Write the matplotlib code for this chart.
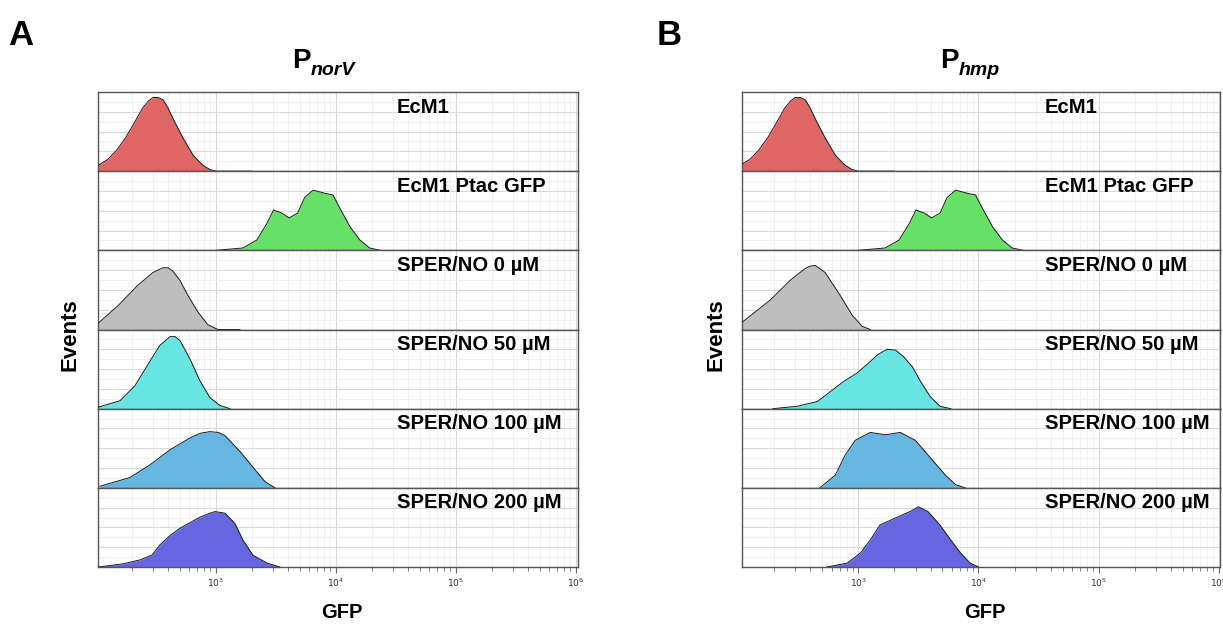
import numpy as np
import matplotlib
matplotlib.use("Agg")
import matplotlib.pyplot as plt
from matplotlib.ticker import LogLocator, FuncFormatter, NullFormatter, MultipleLocator

plt.rcParams['font.family'] = ['Liberation Sans', 'DejaVu Sans']

# ---------------- data (log10 GFP, relative event height) ----------------
row_labels = ["EcM1", "EcM1 Ptac GFP", "SPER/NO 0 \u00b5M", "SPER/NO 50 \u00b5M",
              "SPER/NO 100 \u00b5M", "SPER/NO 200 \u00b5M"]
row_colors = ["#E06666", "#66E066", "#BEBEBE", "#66E5E2", "#66B6E2", "#6666E0"]

ecm1_log = [2.02, 2.1, 2.175, 2.25, 2.31, 2.39, 2.44, 2.475, 2.52, 2.56, 2.6, 2.64,
            2.725, 2.81, 2.89, 2.95, 3.0, 3.3]
ecm1_h   = [0.076, 0.15, 0.27, 0.43, 0.585, 0.80, 0.89, 0.93, 0.93, 0.90, 0.80, 0.67,
            0.42, 0.20, 0.076, 0.02, 0.0, 0.0]

ptac_log = [3.0, 3.225, 3.34, 3.425, 3.48, 3.55, 3.61, 3.68, 3.74, 3.81, 3.91, 3.975,
            4.03, 4.12, 4.2, 4.28, 4.37]
ptac_h   = [0.0, 0.03, 0.13, 0.34, 0.51, 0.47, 0.41, 0.47, 0.67, 0.76, 0.72, 0.70,
            0.54, 0.29, 0.13, 0.03, 0.0]

# Panel A (P_norV)
a_sper0_log = [2.02, 2.183, 2.35, 2.475, 2.558, 2.60, 2.64, 2.70, 2.767, 2.85, 2.933,
               3.017, 3.2]
a_sper0_h   = [0.08, 0.30, 0.56, 0.72, 0.78, 0.78, 0.74, 0.62, 0.43, 0.22, 0.06,
               0.0, 0.0]

a_sper50_log = [2.0, 2.2, 2.325, 2.45, 2.533, 2.617, 2.66, 2.70, 2.783, 2.867, 2.95,
                3.033, 3.117]
a_sper50_h   = [0.01, 0.10, 0.29, 0.60, 0.80, 0.91, 0.91, 0.86, 0.63, 0.35, 0.14,
                0.04, 0.0]

a_sper100_log = [2.033, 2.283, 2.45, 2.617, 2.783, 2.87, 2.95, 3.02, 3.075, 3.2, 3.325,
                 3.408, 3.492]
a_sper100_h   = [0.02, 0.13, 0.29, 0.48, 0.63, 0.69, 0.71, 0.70, 0.66, 0.46, 0.23,
                 0.08, 0.0]

a_sper200_log = [2.02, 2.225, 2.367, 2.467, 2.533, 2.62, 2.70, 2.867, 2.95, 2.992,
                 3.075, 3.158, 3.225, 3.308, 3.425, 3.533]
a_sper200_h   = [0.0, 0.04, 0.09, 0.15, 0.28, 0.40, 0.49, 0.63, 0.68, 0.70,
                 0.68, 0.55, 0.34, 0.15, 0.05, 0.0]

# Panel B (P_hmp)
b_sper0_log = [2.033, 2.267, 2.433, 2.558, 2.60, 2.642, 2.725, 2.85, 2.95, 3.033, 3.1]
b_sper0_h   = [0.09, 0.37, 0.62, 0.77, 0.80, 0.81, 0.72, 0.43, 0.18, 0.04, 0.0]

b_sper50_log = [2.29, 2.49, 2.66, 2.79, 2.875, 2.99, 3.075, 3.16, 3.24, 3.31, 3.375,
                3.45, 3.52, 3.6, 3.68, 3.77]
b_sper50_h   = [0.0, 0.03, 0.09, 0.24, 0.34, 0.45, 0.56, 0.68, 0.75, 0.74, 0.66,
                0.53, 0.34, 0.15, 0.03, 0.0]

b_sper100_log = [2.68, 2.81, 2.89, 2.975, 3.1, 3.225, 3.35, 3.475, 3.6, 3.725, 3.81, 3.89]
b_sper100_h   = [0.0, 0.16, 0.41, 0.60, 0.70, 0.67, 0.70, 0.60, 0.38, 0.16, 0.04, 0.0]

b_sper200_log = [2.74, 2.91, 3.02, 3.1, 3.18, 3.31, 3.43, 3.5, 3.58, 3.68, 3.77,
                 3.85, 3.93, 4.0]
b_sper200_h   = [0.0, 0.05, 0.18, 0.34, 0.53, 0.62, 0.70, 0.76, 0.70, 0.53, 0.34,
                 0.18, 0.05, 0.0]

panel_a = [(ecm1_log, ecm1_h), (ptac_log, ptac_h), (a_sper0_log, a_sper0_h),
           (a_sper50_log, a_sper50_h), (a_sper100_log, a_sper100_h),
           (a_sper200_log, a_sper200_h)]
panel_b = [(ecm1_log, ecm1_h), (ptac_log, ptac_h), (b_sper0_log, b_sper0_h),
           (b_sper50_log, b_sper50_h), (b_sper100_log, b_sper100_h),
           (b_sper200_log, b_sper200_h)]

tick_values = [1e3, 1e4, 1e5, 1e6]

# ---------------- figure ----------------
W, H = 1223, 630
fig = plt.figure(figsize=(W / 100, H / 100), dpi=100)


def fx(px):
    return px / W


def fy(py):
    return 1 - py / H


def draw_panel(left_px, right_px, xlim, data, label_x):
    top_px, bottom_px = 92, 567
    n = len(data)
    row_h = (bottom_px - top_px) / n
    axes = []
    for i, ((lg, h), col, lab) in enumerate(zip(data, row_colors, row_labels)):
        y_top = top_px + i * row_h
        ax = fig.add_axes([fx(left_px), fy(y_top + row_h), fx(right_px - left_px),
                           row_h / H])
        ax.set_xscale('log')
        ax.set_xlim(*xlim)
        ax.set_ylim(0, 1.0)
        x = 10 ** np.array(lg)
        ax.fill_between(x, 0, h, color=col, lw=0, zorder=2)
        ax.plot(x, h, color='#1a1a1a', lw=0.7, zorder=3)
        # grid
        ax.xaxis.set_major_locator(LogLocator(base=10, numticks=20))
        ax.xaxis.set_minor_locator(LogLocator(base=10, subs=np.arange(2, 10), numticks=20))
        ax.yaxis.set_major_locator(MultipleLocator(0.25))
        ax.yaxis.set_minor_locator(MultipleLocator(0.125))
        ax.grid(True, which='major', color='#d9d9d9', lw=0.8, zorder=0)
        ax.grid(True, which='minor', color='#eeeeee', lw=0.6, zorder=0)
        ax.set_axisbelow(True)
        ax.tick_params(axis='y', which='both', left=False, labelleft=False)
        for s in ax.spines.values():
            s.set_color('#555555')
            s.set_linewidth(1.0)
        ax.text(label_x, 0.81, lab, transform=ax.transAxes, ha='left', va='center',
                fontsize=14.6, fontweight='bold', color='black', zorder=5)
        if i < n - 1:
            ax.tick_params(axis='x', which='both', bottom=False, labelbottom=False)
        else:
            ax.set_xticks(tick_values)
            ax.xaxis.set_major_formatter(FuncFormatter(
                lambda v, p: r'$10^{%d}$' % int(round(np.log10(v)))))
            ax.xaxis.set_minor_formatter(NullFormatter())
            ax.tick_params(axis='x', which='major', length=4, width=0.8, color='#666666',
                           labelsize=6.5, labelcolor='#333333', pad=3)
            ax.tick_params(axis='x', which='minor', length=3, width=0.6, color='#666666')
        axes.append(ax)
    return axes


axA = draw_panel(98, 578, (104, 1.04e6), panel_a, 0.623)
axB = draw_panel(742, 1220, (108, 1.02e6), panel_b, 0.634)

# axis labels
for cx in (70, 716):
    fig.text(fx(cx), fy(335), "Events", rotation=90, ha='center', va='center',
             fontsize=16, fontweight='bold')
fig.text(fx(342), fy(612), "GFP", ha='center', va='center', fontsize=14.5, fontweight='bold')
fig.text(fx(985), fy(612), "GFP", ha='center', va='center', fontsize=14.5, fontweight='bold')

# titles
fig.text(fx(292), fy(68), "P", ha='left', va='baseline', fontsize=20, fontweight='bold')
fig.text(fx(311), fy(75), "norV", ha='left', va='baseline', fontsize=14,
         fontweight='bold', style='italic')
fig.text(fx(940), fy(68), "P", ha='left', va='baseline', fontsize=20, fontweight='bold')
fig.text(fx(959), fy(75), "hmp", ha='left', va='baseline', fontsize=14,
         fontweight='bold', style='italic')

# panel letters
fig.text(fx(8), fy(45), "A", ha='left', va='baseline', fontsize=25, fontweight='bold')
fig.text(fx(657), fy(45), "B", ha='left', va='baseline', fontsize=25, fontweight='bold')

fig.savefig("out.png", dpi=100)
